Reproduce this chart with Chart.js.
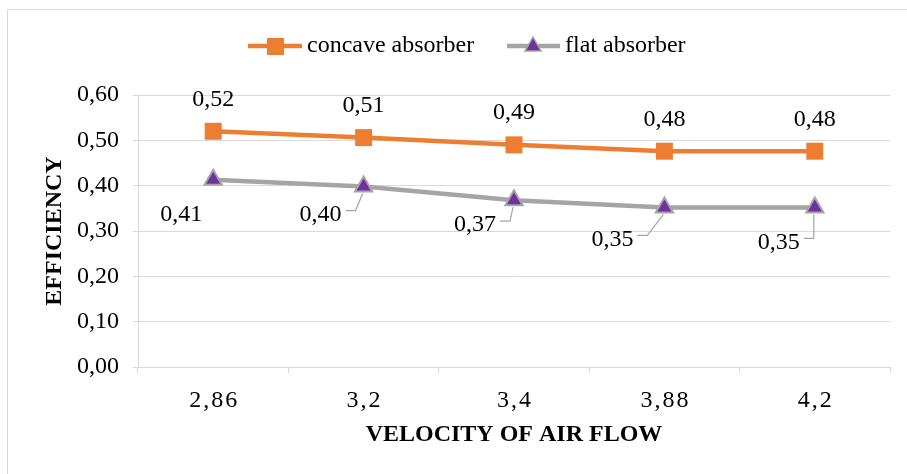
<!DOCTYPE html>
<html>
<head>
<meta charset="utf-8">
<script src="https://cdn.jsdelivr.net/npm/chart.js@4.4.1/dist/chart.umd.min.js"></script>
<style>
  body { margin: 0; background: #fff; overflow: hidden; }
  #wrap { position: relative; width: 907px; height: 474px; }
  #frame { position: absolute; left: 7px; top: 9px; width: 1000px; height: 1000px; border: 1.5px solid #d9d9d9; }
  #box { position: absolute; left: 0; top: 0; width: 907px; height: 474px; }
</style>
</head>
<body>
<div id="wrap">
  <div id="frame"></div>
  <div id="box"><canvas id="effChart"></canvas></div>
</div>
<script>
const VELOCITIES = ['2,86', '3,2', '3,4', '3,88', '4,2'];
const CONCAVE = [0.52, 0.506, 0.49, 0.476, 0.476];
const FLAT = [0.413, 0.398, 0.368, 0.352, 0.352];
const Y_TICKS = [0, 0.1, 0.2, 0.3, 0.4, 0.5, 0.6];

const ORANGE = '#ED7D31';
const GREY = '#A5A5A5';
const PURPLE = '#7030A0';
const GRID = '#d9d9d9';
const FONT = "'Liberation Serif', 'Times New Roman', serif";
const SIZE = 24;

// where the flat absorber labels sit, relative to their point (like Excel leaves them)
const FLAT_LABEL_OFFSETS = [[-32, 35, false], [-43, 28, true], [-39, 25, true], [-52, 32, true], [-36, 35, true]];

const fmt = v => v.toFixed(2).replace('.', ',');

const extras = {
  id: 'extras',
  afterDatasetsDraw(chart) {
    const ctx = chart.ctx;
    ctx.save();
    ctx.font = `${SIZE}px ${FONT}`;
    ctx.fillStyle = '#000';
    ctx.textAlign = 'center';
    ctx.textBaseline = 'middle';

    chart.getDatasetMeta(0).data.forEach((p, i) => {
      ctx.fillText(fmt(CONCAVE[i]), p.x, p.y - 32);
    });

    chart.getDatasetMeta(1).data.forEach((p, i) => {
      const [dx, dy, leader] = FLAT_LABEL_OFFSETS[i];
      const lx = p.x + dx, ly = p.y + dy;
      ctx.fillText(fmt(FLAT[i]), lx, ly);
      if (leader) {
        const w = ctx.measureText(fmt(FLAT[i])).width;
        const sx = lx + w / 2 + 4, sy = ly - 4;
        ctx.strokeStyle = GREY;
        ctx.lineWidth = 1.2;
        ctx.beginPath();
        ctx.moveTo(sx, sy);
        ctx.lineTo(sx + 10, sy);
        ctx.lineTo(p.x - 1, p.y + 7);
        ctx.stroke();
      }
    });
    ctx.restore();
  },
  afterDraw(chart) {
    const ctx = chart.ctx;
    const area = chart.chartArea;
    ctx.save();
    ctx.fillStyle = '#000';

    // axis titles
    ctx.font = `bold ${SIZE}px ${FONT}`;
    ctx.textAlign = 'center';
    ctx.textBaseline = 'middle';
    ctx.fillText('VELOCITY OF AIR FLOW', (area.left + area.right) / 2, 435);
    ctx.save();
    ctx.translate(55, (area.top + area.bottom) / 2);
    ctx.rotate(-Math.PI / 2);
    ctx.fillText('EFFICIENCY', 0, 0);
    ctx.restore();

    // legend
    const ly = 46;
    ctx.font = `${SIZE}px ${FONT}`;
    ctx.textAlign = 'left';
    ctx.lineWidth = 4.5;
    ctx.strokeStyle = ORANGE;
    ctx.beginPath(); ctx.moveTo(248, ly); ctx.lineTo(302, ly); ctx.stroke();
    ctx.fillStyle = ORANGE;
    ctx.fillRect(267, ly - 8, 17, 17);
    ctx.fillStyle = '#000';
    ctx.fillText('concave absorber', 307, ly);

    ctx.strokeStyle = GREY;
    ctx.beginPath(); ctx.moveTo(507, ly); ctx.lineTo(560, ly); ctx.stroke();
    ctx.fillStyle = PURPLE;
    ctx.strokeStyle = GREY;
    ctx.lineWidth = 1.5;
    ctx.beginPath();
    ctx.moveTo(533, ly - 9); ctx.lineTo(541, ly + 5); ctx.lineTo(525, ly + 5); ctx.closePath();
    ctx.fill(); ctx.stroke();
    ctx.fillStyle = '#000';
    ctx.fillText('flat absorber', 565, ly);
    ctx.restore();
  }
};

new Chart(document.getElementById('effChart'), {
  type: 'line',
  data: {
    labels: VELOCITIES,
    datasets: [{
      label: 'concave absorber',
      data: CONCAVE,
      borderColor: ORANGE,
      backgroundColor: ORANGE,
      borderWidth: 4.5,
      pointStyle: 'rect',
      pointRadius: 12,
      pointBorderWidth: 0,
      tension: 0
    }, {
      label: 'flat absorber',
      data: FLAT,
      borderColor: GREY,
      backgroundColor: PURPLE,
      pointBorderColor: GREY,
      borderWidth: 4.5,
      pointStyle: 'triangle',
      pointRadius: 10,
      pointBorderWidth: 2,
      tension: 0
    }]
  },
  options: {
    responsive: true,
    maintainAspectRatio: false,
    animation: false,
    layout: { padding: { top: 95, right: 17, left: 0, bottom: 0 } },
    plugins: { legend: { display: false }, tooltip: { enabled: false } },
    scales: {
      x: {
        offset: true,
        afterFit: s => { s.height = 107; },
        grid: { offset: true, drawOnChartArea: false, color: GRID, tickLength: 6 },
        border: { color: GRID, width: 1 },
        ticks: {
          color: '#000',
          padding: 13,
          font: { family: FONT, size: SIZE },
          callback: (v, i) => VELOCITIES[i].split('').join('\u200A')
        }
      },
      y: {
        min: 0,
        max: 0.6,
        afterFit: s => { s.width = 138; },
        afterBuildTicks: s => { s.ticks = Y_TICKS.map(v => ({ value: v })); },
        grid: { color: GRID, tickLength: 5 },
        border: { color: GRID, width: 1 },
        ticks: {
          color: '#000',
          padding: 14,
          font: { family: FONT, size: SIZE },
          callback: v => fmt(v)
        }
      }
    }
  },
  plugins: [extras]
});
</script>
</body>
</html>
